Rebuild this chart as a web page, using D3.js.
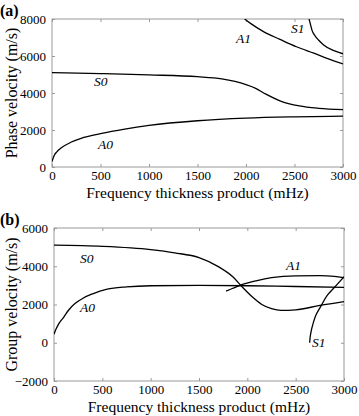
<!DOCTYPE html>
<html>
<head>
<meta charset="utf-8">
<script src="https://cdn.jsdelivr.net/npm/d3@7"></script>
<style>
  body { margin: 0; background: #fff; }
  svg text { fill: #000; }
  .frame { fill: none; stroke: #999; stroke-width: 1; }
  .tick line { stroke: #999; }
  .tick text { font-size: 13px; }
  .curve { fill: none; stroke: #000; stroke-width: 1.3; }
  .mode { font-style: italic; font-size: 13.5px; }
</style>
</head>
<body>
<div id="chart"></div>
<script>
// phase velocity (panel a), [fd mHz, m/s]
const phaseS0 = [[0,5100],[500,5050],[1000,4980],[1500,4880],[1750,4760],[2000,4450],[2100,4250],[2200,3950],[2350,3580],[2550,3300],[2750,3170],[3000,3100]];
const phaseA0 = [[0,300],[25,650],[50,820],[100,1050],[200,1350],[300,1550],[500,1800],[750,2050],[1000,2250],[1500,2500],[2000,2640],[2500,2710],[3000,2750]];
const phaseA1 = [[1985,8000],[2050,7750],[2180,7320],[2350,6900],[2520,6500],[2700,6150],[2850,5850],[3000,5570]];
const phaseS1 = [[2650,8000],[2665,7700],[2680,7400],[2710,7100],[2750,6850],[2800,6600],[2900,6300],[3000,6120]];

// group velocity (panel b)
const groupS0 = [[0,5100],[500,5040],[1000,4870],[1250,4700],[1500,4450],[1700,3980],[1850,3450],[1950,2900],[2050,2400],[2150,2000],[2250,1780],[2350,1690],[2500,1720],[2750,1950],[3000,2150]];
const groupA0 = [[0,450],[20,700],[50,1000],[100,1330],[150,1700],[220,2060],[300,2330],[400,2560],[550,2800],[750,2920],[1000,2980],[1500,3000],[2000,2980],[2500,2940],[3000,2900]];
const groupA1 = [[1780,2700],[1850,2850],[1950,3050],[2100,3250],[2250,3400],[2500,3500],[2750,3510],[2900,3470],[3000,3400]];
const groupS1 = [[2645,0],[2650,300],[2660,600],[2680,1000],[2710,1450],[2760,1900],[2830,2500],[2920,3000],[3000,3450]];

const xTicks = [0, 500, 1000, 1500, 2000, 2500, 3000];
const phaseTicks = [0, 2000, 4000, 6000, 8000];
const groupTicks = [-2000, 0, 2000, 4000, 6000];

const width = 359, height = 416;
const serif = "Liberation Serif, DejaVu Serif";

const svg = d3.select("#chart").append("svg")
  .attr("width", width).attr("height", height)
  .style("font-family", serif);

function panel(opts) {
  const x = d3.scaleLinear().domain([0, 3000]).range([opts.left, opts.right]);
  const y = d3.scaleLinear().domain(opts.yDomain).range([opts.bottom, opts.top]);
  const g = svg.append("g");

  g.append("rect").attr("class", "frame")
    .attr("x", opts.left).attr("y", opts.top)
    .attr("width", opts.right - opts.left).attr("height", opts.bottom - opts.top);

  // inward ticks on all four sides, labels only bottom/left
  g.append("g").attr("transform", `translate(0,${opts.bottom})`)
    .call(d3.axisBottom(x).tickValues(xTicks).tickSize(-3).tickPadding(4).tickFormat(d3.format("d")))
    .call(a => a.select(".domain").remove());
  g.append("g").attr("transform", `translate(0,${opts.top})`)
    .call(d3.axisTop(x).tickValues(xTicks).tickSize(-3).tickFormat(""))
    .call(a => a.select(".domain").remove());
  g.append("g").attr("transform", `translate(${opts.left},0)`)
    .call(d3.axisLeft(y).tickValues(opts.yTicks).tickSize(-3).tickPadding(6).tickFormat(d3.format("d")))
    .call(a => a.select(".domain").remove());
  g.append("g").attr("transform", `translate(${opts.right},0)`)
    .call(d3.axisRight(y).tickValues(opts.yTicks).tickSize(-3).tickFormat(""))
    .call(a => a.select(".domain").remove());

  g.selectAll("g").attr("font-family", null).attr("font-size", null);

  const line = d3.line().x(d => x(d[0])).y(d => y(d[1])).curve(d3.curveMonotoneX);
  const lineY = d3.line().x(d => x(d[0])).y(d => y(d[1])).curve(d3.curveMonotoneY);

  const clip = "clip" + opts.id;
  g.append("clipPath").attr("id", clip).append("rect")
    .attr("x", opts.left).attr("y", opts.top)
    .attr("width", opts.right - opts.left).attr("height", opts.bottom - opts.top);

  opts.curves.forEach(c => {
    g.append("path").attr("class", "curve")
      .attr("clip-path", `url(#${clip})`)
      .attr("d", (c.steep ? lineY : line)(c.data));
  });

  opts.labels.forEach(l => {
    g.append("text").attr("class", "mode")
      .attr("x", l.x).attr("y", l.y).text(l.t);
  });

  g.append("text").attr("x", 0).attr("y", opts.top - 3)
    .attr("font-weight", "bold").attr("font-size", 16).text(opts.tag);

  g.append("text")
    .attr("transform", `translate(17,${(opts.top + opts.bottom) / 2}) rotate(-90)`)
    .attr("text-anchor", "middle").attr("font-size", 16).text(opts.yTitle);

  g.append("text").attr("x", (opts.left + opts.right) / 2).attr("y", opts.bottom + 31)
    .attr("text-anchor", "middle").attr("font-size", 15.5).text("Frequency thickness product (mHz)");
}

panel({
  id: "a", tag: "(a)", left: 52, right: 343, top: 19, bottom: 167,
  yDomain: [0, 8000], yTicks: phaseTicks, yTitle: "Phase velocity (m/s)",
  curves: [{data: phaseS0}, {data: phaseA0}, {data: phaseA1}, {data: phaseS1}],
  labels: [{t: "S0", x: 94, y: 86}, {t: "A0", x: 98, y: 149}, {t: "A1", x: 236, y: 43}, {t: "S1", x: 291, y: 33}]
});

panel({
  id: "b", tag: "(b)", left: 54, right: 344, top: 228, bottom: 381,
  yDomain: [-2000, 6000], yTicks: groupTicks, yTitle: "Group velocity (m/s)",
  curves: [{data: groupS0}, {data: groupA0}, {data: groupA1}, {data: groupS1, steep: true}],
  labels: [{t: "S0", x: 80, y: 263}, {t: "A0", x: 80, y: 312}, {t: "A1", x: 286, y: 270}, {t: "S1", x: 312, y: 347}]
});
</script>
</body>
</html>
